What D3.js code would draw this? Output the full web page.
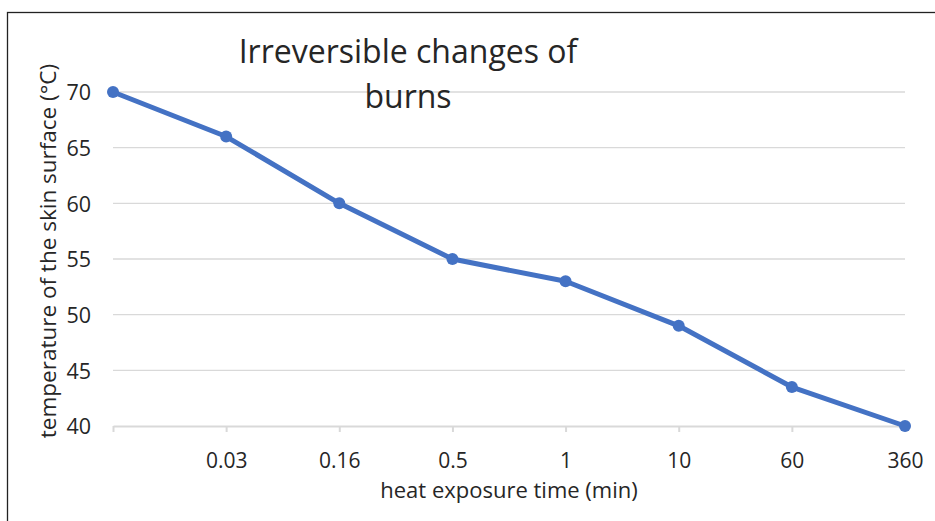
<!DOCTYPE html>
<html>
<head>
<meta charset="utf-8">
<script src="https://cdn.jsdelivr.net/npm/d3@7/dist/d3.min.js"></script>
<style>
  body { margin: 0; background: #fff; }
  text { font-family: "Open Sans", Lato, sans-serif; fill: #262626; }
</style>
</head>
<body>
<div id="chart"></div>
<script>
// data
const categories = ['', '0.03', '0.16', '0.5', '1', '10', '60', '360'];
const temperatures = [70, 66, 60, 55, 53, 49, 43.5, 40];
const yTicks = [40, 45, 50, 55, 60, 65, 70];

const W = 935, H = 521;
const svg = d3.select('#chart').append('svg')
  .attr('width', W)
  .attr('height', H);

// outer chart frame
svg.append('rect')
  .attr('x', 7.5).attr('y', 12.5)
  .attr('width', W + 10).attr('height', H + 10)
  .attr('fill', 'none')
  .attr('stroke', '#222')
  .attr('stroke-width', 1.3);

const x = d3.scalePoint()
  .domain(categories.map((c, i) => i))
  .range([113, 905]);

const y = d3.scaleLinear()
  .domain([40, 70])
  .range([426, 92]);

// gridlines
svg.append('g')
  .selectAll('line')
  .data(yTicks.filter(t => t !== 40))
  .enter().append('line')
  .attr('x1', 113).attr('x2', 905)
  .attr('y1', d => y(d)).attr('y2', d => y(d))
  .attr('stroke', '#d9d9d9')
  .attr('stroke-width', 1.3);

// x axis
const xAxis = svg.append('g')
  .attr('transform', `translate(0,${y(40)})`)
  .call(d3.axisBottom(x).tickSize(6).tickSizeOuter(0).tickFormat(i => categories[i]));
xAxis.select('.domain').attr('stroke', '#d9d9d9').attr('stroke-width', 2);
xAxis.selectAll('.tick line').attr('stroke', '#d9d9d9').attr('stroke-width', 2);
xAxis.selectAll('.tick text')
  .attr('y', 42)
  .attr('dy', 0)
  .attr('font-size', 21)
  .style('font-family', '"Open Sans", Lato, sans-serif')
  .attr('fill', '#262626');

// y axis (labels only)
const yAxis = svg.append('g')
  .attr('transform', 'translate(113,0)')
  .call(d3.axisLeft(y).tickValues(yTicks).tickSize(0).tickPadding(22));
yAxis.select('.domain').remove();
yAxis.selectAll('.tick text')
  .attr('font-size', 21.5)
  .attr('dy', '0.36em')
  .style('font-family', '"Open Sans", Lato, sans-serif')
  .attr('fill', '#262626');

// line + markers
const line = d3.line()
  .x((d, i) => x(i))
  .y(d => y(d));

svg.append('path')
  .datum(temperatures)
  .attr('d', line)
  .attr('fill', 'none')
  .attr('stroke', '#4472c4')
  .attr('stroke-width', 5)
  .attr('stroke-linejoin', 'round');

svg.append('g')
  .selectAll('circle')
  .data(temperatures)
  .enter().append('circle')
  .attr('cx', (d, i) => x(i))
  .attr('cy', d => y(d))
  .attr('r', 6)
  .attr('fill', '#4472c4');

// title
const title = svg.append('text')
  .attr('x', 408)
  .attr('y', 63)
  .attr('text-anchor', 'middle')
  .attr('font-size', 32);
title.append('tspan').attr('x', 408).text('Irreversible changes of');
title.append('tspan').attr('x', 408).attr('dy', 45).text('burns');

// axis titles
svg.append('text')
  .attr('transform', 'translate(56,251) rotate(-90)')
  .attr('text-anchor', 'middle')
  .attr('font-size', 22.5)
  .text('temperature of the skin surface (°C)');

svg.append('text')
  .attr('x', 509)
  .attr('y', 498)
  .attr('text-anchor', 'middle')
  .attr('font-size', 22)
  .text('heat exposure time (min)');
</script>
</body>
</html>
